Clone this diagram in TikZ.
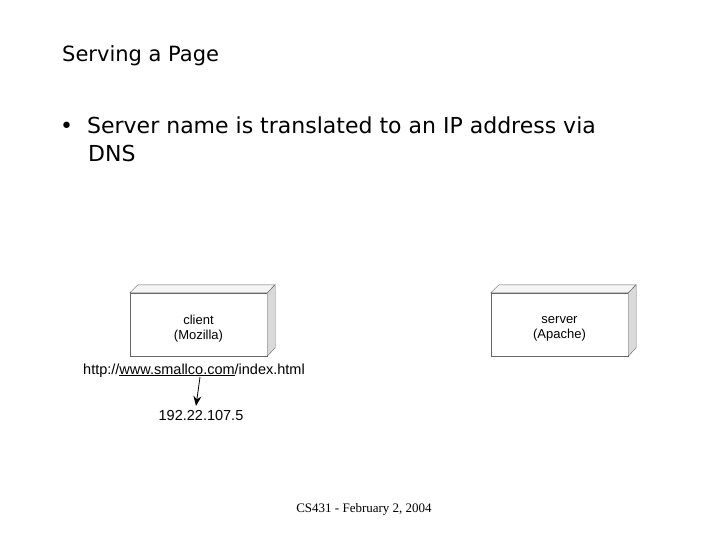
\documentclass[tikz,border=0pt]{standalone}
\usepackage{fontspec}
\setmainfont{Liberation Serif}
\newfontfamily\slidefont{DejaVu Sans}
\newfontfamily\boxfont{Liberation Sans}
\usetikzlibrary{positioning,arrows.meta}
\begin{document}
\begin{tikzpicture}[x=1pt,y=-1pt,
    host/.style={draw=black!60,fill=white,minimum width=137pt,minimum height=63pt,
      font=\boxfont\fontsize{13}{15}\selectfont,align=center,inner sep=0pt},
    lbl/.style={font=\boxfont\fontsize{14.5}{16}\selectfont,inner sep=0pt}]
\useasboundingbox (0,0) rectangle (720,540);
\node[anchor=base west,font=\slidefont\fontsize{21}{24}\selectfont,inner sep=0pt] (title) at (62,62) {Serving a Page};
\node[anchor=base west,font=\slidefont\fontsize{22}{28}\selectfont,align=left,inner sep=0pt] (bullet) at (60,162)
  {\textbullet\hspace{14pt}Server name is translated to an IP address via\\\hspace{28pt}DNS};
% hosts with a 3D side
\node[host] (client) at (198.5,324.5) {};
\node[host] (server) at (559.5,324.5) {};
\node[host,draw=none,fill=none] (clientlbl) at ([yshift=-4pt]client.center) {client\\(Mozilla)};
\node[host,draw=none,fill=none] (serverlbl) at ([yshift=-4pt]server.center) {server\\(Apache)};
\foreach \h in {client,server}{
  \fill[black!15,draw=black!60] (\h.north east) -- ++(8,-8) -- ++(0,63) -- (\h.south east) -- cycle;
  \draw[black!60,fill=black!4] (\h.north west) -- ++(8,-8) -- ++(137,0) -- (\h.north east) -- cycle;
}
\node[lbl,anchor=base west] (url) at (83,374) {http://\underline{www.smallco.com}/index.html};
\node[lbl,anchor=base] (ip) at (201,420) {192.22.107.5};
\coordinate (dns) at (200,377);
\draw[-{Stealth[length=10pt,width=8pt]},thick] (dns) -- (196,406);
\node[anchor=base,font=\fontsize{13}{15}\selectfont] (foot) at (364,512) {CS431 - February 2, 2004};
\end{tikzpicture}
\end{document}
